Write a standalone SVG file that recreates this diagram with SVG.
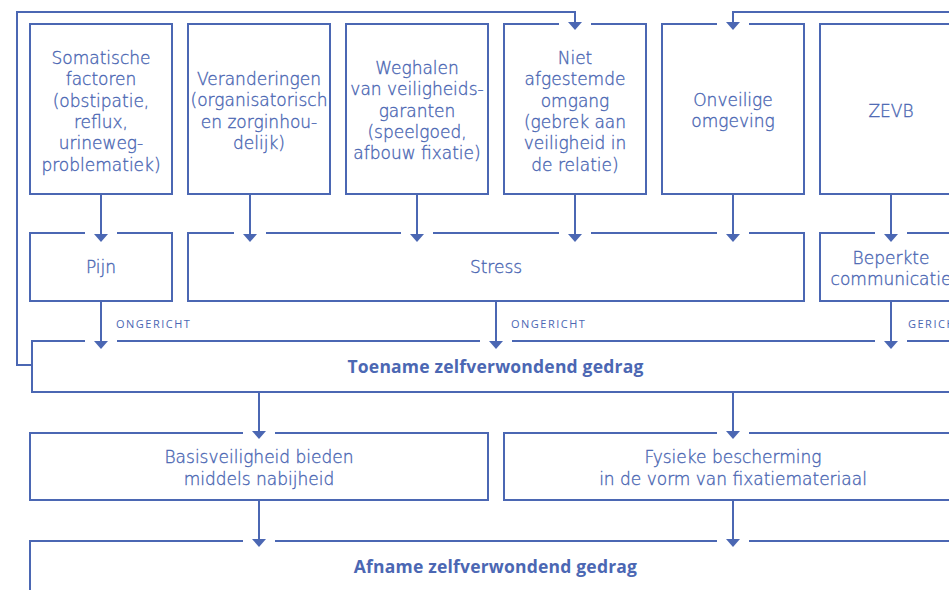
<svg xmlns="http://www.w3.org/2000/svg" width="949" height="590" viewBox="0 0 949 590">
  <style>
    .box { fill: none; stroke: #4b67b3; stroke-width: 2; }
    .wire { fill: none; stroke: #4b67b3; stroke-width: 2; marker-end: url(#ah); }
    .t { font-family: "DejaVu Sans", "Open Sans", sans-serif; font-size: 17px; font-weight: 300; fill: #4b67b3; stroke: #4b67b3; stroke-width: 0.35px; text-anchor: middle; }
    .b { font-family: "Open Sans", "DejaVu Sans", sans-serif; font-size: 17.5px; font-weight: 700; letter-spacing: 0.2px; fill: #4b67b3; text-anchor: middle; }
    .lbl { font-family: "Open Sans", "DejaVu Sans", sans-serif; font-size: 11px; letter-spacing: 1.5px; fill: #4b67b3; }
  </style>
  <defs>
    <marker id="ah" viewBox="0 0 8 14" refX="2" refY="7" markerWidth="8" markerHeight="14" markerUnits="userSpaceOnUse" orient="auto">
      <path d="M0,0 L8,7 L0,14 Z" fill="#4b67b3"/>
    </marker>
  </defs>
  <rect width="949" height="590" fill="#ffffff"/>

  <!-- connectors -->
  <g id="connectors">
    <path class="wire" d="M32,365 H17 V12 H575 V24"/>
    <path class="wire" d="M962,12 H733 V24"/>
    <path class="wire" d="M101,194 V236"/>
    <path class="wire" d="M250,194 V236"/>
    <path class="wire" d="M417,194 V236"/>
    <path class="wire" d="M575,194 V236"/>
    <path class="wire" d="M733,194 V236"/>
    <path class="wire" d="M891,194 V236"/>
    <path class="wire" d="M101,301 V343"/>
    <path class="wire" d="M496,301 V343"/>
    <path class="wire" d="M891,301 V343"/>
    <path class="wire" d="M259,392 V433"/>
    <path class="wire" d="M733,392 V433"/>
    <path class="wire" d="M259,500 V541"/>
    <path class="wire" d="M733,500 V541"/>
    <text class="lbl" x="116" y="328">ONGERICHT</text>
    <text class="lbl" x="511" y="328">ONGERICHT</text>
    <text class="lbl" x="908" y="328">GERICHT</text>
  </g>

  <!-- row 1: causes -->
  <g id="somatisch">
    <rect class="box" x="30" y="24" width="142" height="170"/>
    <text class="t" x="101" y="64">Somatische</text>
    <text class="t" x="101" y="85.3">factoren</text>
    <text class="t" x="101" y="106.6">(obstipatie,</text>
    <text class="t" x="101" y="127.9">reflux,</text>
    <text class="t" x="101" y="149.2">urineweg-</text>
    <text class="t" x="101" y="170.5">problematiek)</text>
  </g>
  <g id="veranderingen">
    <rect class="box" x="188" y="24" width="142" height="170"/>
    <text class="t" x="259" y="85">Veranderingen</text>
    <text class="t" x="259" y="106.3">(organisatorisch</text>
    <text class="t" x="259" y="127.6">en zorginhou-</text>
    <text class="t" x="259" y="148.9">delijk)</text>
  </g>
  <g id="weghalen">
    <rect class="box" x="346" y="24" width="142" height="170"/>
    <text class="t" x="417" y="74">Weghalen</text>
    <text class="t" x="417" y="95.3">van veiligheids-</text>
    <text class="t" x="417" y="116.6">garanten</text>
    <text class="t" x="417" y="137.9">(speelgoed,</text>
    <text class="t" x="417" y="159.2">afbouw fixatie)</text>
  </g>
  <g id="niet-afgestemd">
    <path class="box" d="M591,24 H646 V194 H504 V24 H559"/>
    <text class="t" x="575" y="64">Niet</text>
    <text class="t" x="575" y="85.3">afgestemde</text>
    <text class="t" x="575" y="106.6">omgang</text>
    <text class="t" x="575" y="127.9">(gebrek aan</text>
    <text class="t" x="575" y="149.2">veiligheid in</text>
    <text class="t" x="575" y="170.5">de relatie)</text>
  </g>
  <g id="onveilig">
    <path class="box" d="M749,24 H804 V194 H662 V24 H717"/>
    <text class="t" x="733" y="106">Onveilige</text>
    <text class="t" x="733" y="127.3">omgeving</text>
  </g>
  <g id="zevb">
    <rect class="box" x="820" y="24" width="142" height="170"/>
    <text class="t" x="891" y="117">ZEVB</text>
  </g>

  <!-- row 2 -->
  <g id="pijn">
    <path class="box" d="M117,233 H172 V301 H30 V233 H85"/>
    <text class="t" x="101" y="273">Pijn</text>
  </g>
  <g id="stress">
    <path class="box" d="M234,233 H188 V301 H804 V233 H749 M717,233 H591 M559,233 H433 M401,233 H266"/>
    <text class="t" x="496" y="273">Stress</text>
  </g>
  <g id="communicatie">
    <path class="box" d="M875,233 H820 V301 H962 M907,233 H962"/>
    <text class="t" x="891" y="264">Beperkte</text>
    <text class="t" x="891" y="285.3">communicatie</text>
  </g>

  <!-- row 3 -->
  <g id="toename">
    <path class="box" d="M85,341 H32 V392 H962 M117,341 H480 M512,341 H875 M907,341 H962"/>
    <text class="b" x="495.5" y="373">Toename zelfverwondend gedrag</text>
  </g>

  <!-- row 4 -->
  <g id="basisveiligheid">
    <path class="box" d="M243,433 H30 V500 H488 V433 H275"/>
    <text class="t" x="259" y="463">Basisveiligheid bieden</text>
    <text class="t" x="259" y="485">middels nabijheid</text>
  </g>
  <g id="bescherming">
    <path class="box" d="M717,433 H504 V500 H962 M749,433 H962"/>
    <text class="t" x="733" y="463">Fysieke bescherming</text>
    <text class="t" x="733" y="485">in de vorm van fixatiemateriaal</text>
  </g>

  <!-- row 5 -->
  <g id="afname">
    <path class="box" d="M243,541 H30 V600 M275,541 H717 M749,541 H962"/>
    <text class="b" x="495.5" y="573">Afname zelfverwondend gedrag</text>
  </g>
</svg>
